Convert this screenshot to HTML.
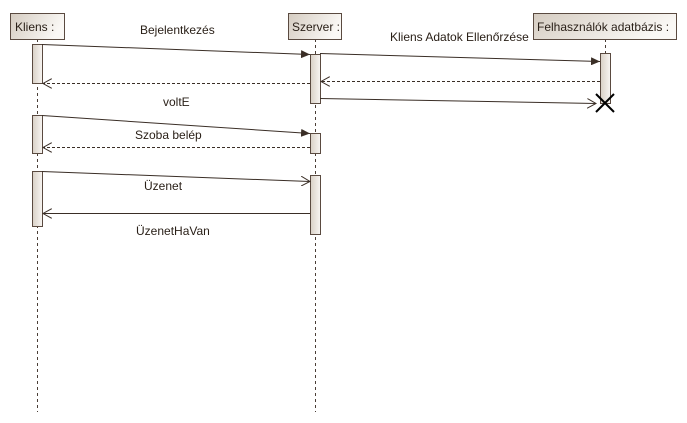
<!DOCTYPE html>
<html><head><meta charset="utf-8"><style>html,body{margin:0;padding:0;background:#fff}svg{display:block}text{font-family:"Liberation Sans",sans-serif;font-size:12px;fill:#2a2018}</style></head><body>
<svg width="687" height="423" xmlns="http://www.w3.org/2000/svg">
<defs>
<linearGradient id="g" x1="0" y1="0" x2="1" y2="0.3"><stop offset="0" stop-color="#d5ccc1"/><stop offset="1" stop-color="#faf8f5"/></linearGradient>
<linearGradient id="a" x1="0" y1="0" x2="1" y2="0"><stop offset="0" stop-color="#d9d0c6"/><stop offset="1" stop-color="#f8f6f3"/></linearGradient>
<marker id="f" markerWidth="10" markerHeight="8" refX="9" refY="4" orient="auto" markerUnits="userSpaceOnUse"><path d="M0,0L9,4L0,8z" fill="#3a2e26"/></marker>
<marker id="o" markerWidth="10" markerHeight="10" refX="9" refY="5" orient="auto" markerUnits="userSpaceOnUse"><path d="M0,0L9,5L0,10" fill="none" stroke="#3a2e26"/></marker>
</defs>
<g stroke="#4a3e36" stroke-dasharray="3,3" fill="none">
<line x1="37.5" y1="39" x2="37.5" y2="412"/>
<line x1="315.5" y1="39" x2="315.5" y2="412"/>
<line x1="605.5" y1="39" x2="605.5" y2="100"/>
</g>
<g stroke="#5a4a40" fill="url(#g)">
<rect x="10.5" y="13.5" width="54" height="26"/>
<rect x="288.5" y="13.5" width="53" height="26"/>
<rect x="533.5" y="13.5" width="143" height="26"/>
</g>
<text x="15" y="31">Kliens :</text>
<text x="292" y="31">Szerver :</text>
<text x="537" y="31">Felhasználók adatbázis :</text>
<g stroke="#5a4a40" fill="url(#a)">
<rect x="32.5" y="44.5" width="10" height="39"/>
<rect x="32.5" y="115.5" width="10" height="38"/>
<rect x="32.5" y="171.5" width="10" height="55"/>
<rect x="310.5" y="54.5" width="10" height="49"/>
<rect x="310.5" y="133.5" width="10" height="20"/>
<rect x="310.5" y="175.5" width="10" height="59"/>
<rect x="600.5" y="53.5" width="10" height="50"/>
</g>
<g stroke="#3a2e26" fill="none">
<polyline points="42,44.5 310,54.5" marker-end="url(#f)"/>
<polyline points="320,53.5 600,61.5" marker-end="url(#f)"/>
<line x1="600" y1="81.5" x2="321" y2="81.5" stroke-dasharray="3,2" marker-end="url(#o)"/>
<line x1="310" y1="83.5" x2="43" y2="83.5" stroke-dasharray="3,2" marker-end="url(#o)"/>
<polyline points="320,98.5 596,103.5" marker-end="url(#o)"/>
<polyline points="42,115.5 310,133.5" marker-end="url(#f)"/>
<line x1="310" y1="147.5" x2="43" y2="147.5" stroke-dasharray="3,2" marker-end="url(#o)"/>
<polyline points="42,171.5 310,181.5" marker-end="url(#o)"/>
<line x1="310" y1="213.5" x2="43" y2="213.5" marker-end="url(#o)"/>
<path d="M596,94L614,112M614,94L596,112" stroke="#000" stroke-width="2"/>
</g>
<text x="140" y="34">Bejelentkezés</text>
<text x="390" y="41">Kliens Adatok Ellenőrzése</text>
<text x="163" y="106">voltE</text>
<text x="135" y="139">Szoba belép</text>
<text x="144" y="190">Üzenet</text>
<text x="136" y="235">ÜzenetHaVan</text>
</svg>
</body></html>
